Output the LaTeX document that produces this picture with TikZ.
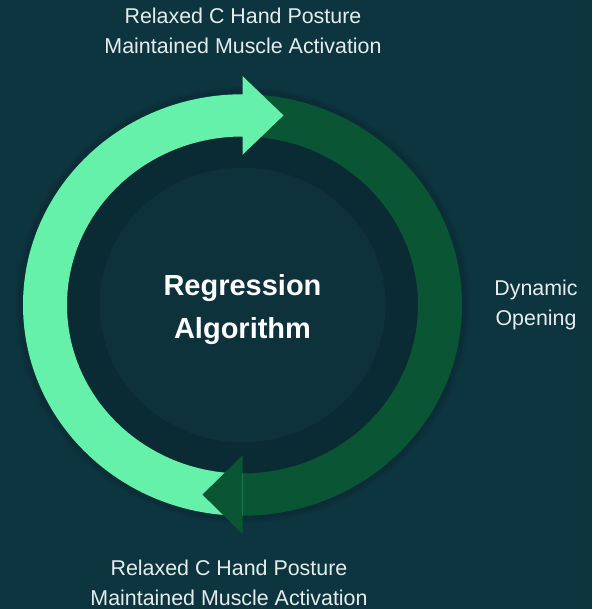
\documentclass[tikz,border=0pt]{standalone}
\usepackage{fontspec}
\setmainfont{Liberation Sans}
\definecolor{bgc}{HTML}{0D3540}
\definecolor{annc}{HTML}{0A2B34}
\definecolor{diskc}{HTML}{0D323C}
\definecolor{lightg}{HTML}{66F1AA}
\definecolor{darkg}{HTML}{0A5533}
\definecolor{txt}{HTML}{E6ECEC}
\begin{document}
\begin{tikzpicture}[x=1pt,y=1pt,
  lbl/.style={text=txt,font=\fontsize{21.4}{29.5}\selectfont,align=center,inner sep=0pt},
  ctr/.style={text=white,font=\fontsize{29}{43}\selectfont\bfseries,align=center,inner sep=0pt}]
\fill[bgc] (0,0) rectangle (592,-609);
\useasboundingbox (0,0) rectangle (592,-609);
\begin{scope}[shift={(242.5,-305)},yscale=0.96]
  % soft shadow outside ring
  \fill[black,opacity=0.06] (0,0) circle[radius=227];
  \fill[black,opacity=0.08] (0,0) circle[radius=224];
  % dark annulus inside ring
  \fill[annc] (0,0) circle[radius=176];
  \fill[diskc] (0,0) circle[radius=143];
  % dark green body
  \fill[darkg] (0,219.5) arc[start angle=90,end angle=-90,radius=219.5]
     -- (0,-175.5) arc[start angle=-90,end angle=90,radius=175.5] -- cycle;
  % light green body + head
  \fill[lightg] (0,175.5) -- (0,156.5) -- (41,197.5) -- (0,238.5) -- (0,219.5)
     arc[start angle=90,end angle=270,radius=219.5]
     -- (0,-175.5) arc[start angle=270,end angle=90,radius=175.5] -- cycle;
  % dark green head
  \fill[darkg] (0,-156.5) -- (-40,-197.5) -- (0,-238.5) -- cycle;
\end{scope}
\node[ctr] (center) at (242.5,-310) {Regression\\Algorithm};
\node[lbl] (top) at (243,-31) {Relaxed C Hand Posture\\Maintained Muscle Activation};
\node[lbl] (bottom) at (229,-583) {Relaxed C Hand Posture\\Maintained Muscle Activation};
\node[lbl] (right) at (536,-305) {Dynamic\\Opening};
\end{tikzpicture}
\end{document}
